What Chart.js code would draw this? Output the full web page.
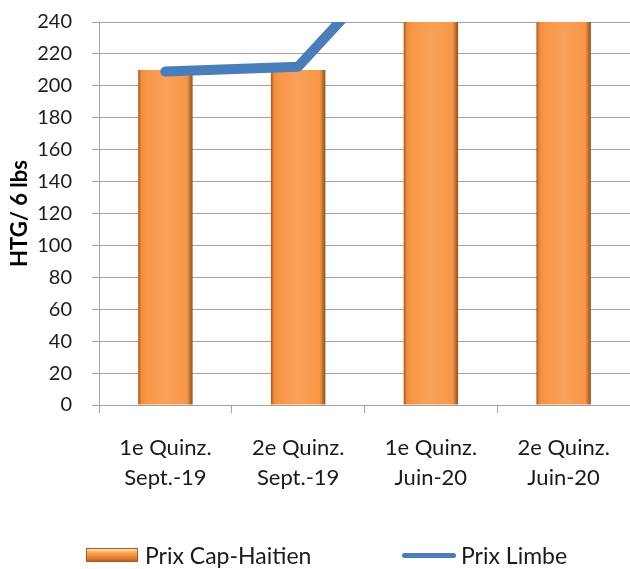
<!DOCTYPE html>
<html>
<head>
<meta charset="utf-8">
<script src="https://cdn.jsdelivr.net/npm/chart.js@4.4.1/dist/chart.umd.min.js"></script>
<style>
  html, body { margin: 0; padding: 0; background: #fff; }
  #wrap { position: relative; width: 630px; height: 569px; overflow: hidden; }
  #legend { position: absolute; left: 0; top: 543px; width: 630px; height: 24px;
            font-family: Lato, "Open Sans", sans-serif; font-size: 23px; color: #1a1a1a; }
  .item { position: absolute; top: 0; display: flex; align-items: center; height: 24px; white-space: nowrap; }
  .sw-bar { width: 52px; height: 14px; margin-right: 7px; box-sizing: border-box;
            border: 1px solid #a9581b;
            background: linear-gradient(#fde7a8 0%, #f9b36d 25%, #f79646 45%, #e6802f 75%, #b9621f 100%); }
  .sw-line { width: 54px; height: 5px; margin-right: 5px; border-radius: 3px; background: #4a7ebb; }
</style>
</head>
<body>
<div id="wrap">
  <canvas id="chart"></canvas>
  <div id="legend"></div>
</div>
<script>
// Données
const categories = [
    ['1e Quinz.', 'Sept.-19'],
    ['2e Quinz.', 'Sept.-19'],
    ['1e Quinz.', 'Juin-20'],
    ['2e Quinz.', 'Juin-20']
];
// Les deux dernières barres dépassent le haut de l'axe (coupées à 240)
const prixCapHaitien = [210, 210, 300, 300];
const prixLimbe = [209, 212, 302, 300];
const yTicks = { min: 0, max: 240, step: 20 };

Chart.defaults.font.family = 'Lato, "Open Sans", sans-serif';
Chart.defaults.color = '#1a1a1a';

const GRID = '#a3a3a3';
const BAR_PCT = 0.41;
const BAR_COLOR = '#f79646';
const LINE_COLOR = '#4a7ebb';

// Dégradé horizontal pour imiter le relief des barres Excel
function barFill(context) {
    const chart = context.chart;
    const x = chart.scales.x;
    if (!chart.chartArea || !x || context.dataIndex === undefined) return BAR_COLOR;
    const c = x.getPixelForValue(context.dataIndex);
    const half = (x.getPixelForValue(1) - x.getPixelForValue(0)) * BAR_PCT / 2;
    const g = chart.ctx.createLinearGradient(c - half, 0, c + half, 0);
    g.addColorStop(0, '#a9581b');
    g.addColorStop(0.06, '#f08d3e');
    g.addColorStop(0.15, '#f79646');
    g.addColorStop(0.5, '#faa158');
    g.addColorStop(0.9, '#f79646');
    g.addColorStop(1, '#8f4e18');
    return g;
}

const ctx = document.getElementById('chart').getContext('2d');
const chart = new Chart(ctx, {
    data: {
        labels: categories,
        datasets: [{
            type: 'bar',
            label: 'Prix Cap-Haitien',
            data: prixCapHaitien,
            backgroundColor: barFill,
            borderWidth: 0,
            categoryPercentage: 1,
            barPercentage: BAR_PCT,
            clip: 0,
            order: 2
        }, {
            type: 'line',
            label: 'Prix Limbe',
            data: prixLimbe,
            borderColor: LINE_COLOR,
            backgroundColor: LINE_COLOR,
            borderWidth: 10,
            borderCapStyle: 'round',
            borderJoinStyle: 'round',
            tension: 0,
            pointRadius: 0,
            clip: 0,
            order: 1
        }]
    },
    options: {
        responsive: true,
        maintainAspectRatio: false,
        animation: false,
        layout: {
            padding: { top: 22, right: 0, left: 0, bottom: 69 }
        },
        plugins: {
            tooltip: { enabled: false },
            legend: { display: false }
        },
        scales: {
            x: {
                offset: true,
                grid: {
                    display: true,
                    drawOnChartArea: false,
                    offset: true,
                    tickLength: 8,
                    color: GRID
                },
                border: { color: GRID },
                ticks: {
                    padding: 20,
                    color: '#1a1a1a',
                    font: { size: 22, lineHeight: 1.36 },
                    maxRotation: 0,
                    autoSkip: false
                },
                afterFit: (scale) => { scale.height = 95; }
            },
            y: {
                min: yTicks.min,
                max: yTicks.max,
                grid: {
                    color: GRID,
                    tickLength: 7
                },
                border: { color: GRID },
                ticks: {
                    stepSize: yTicks.step,
                    padding: 20,
                    autoSkip: false,
                    color: '#1a1a1a',
                    font: { size: 20 }
                },
                title: {
                    display: true,
                    text: 'HTG/ 6 lbs',
                    color: '#000',
                    font: { size: 22, weight: 'bold' },
                    padding: { top: 7, bottom: 0 }
                },
                afterFit: (scale) => {
                    scale.width = 99;
                    // la marge des étiquettes ne doit pas décaler le haut du graphique
                    scale.paddingTop = 0;
                    scale.paddingBottom = 0;
                }
            }
        }
    }
});

// Légende en HTML (espacement identique à l'original)
const legendPos = { 'Prix Cap-Haitien': 86, 'Prix Limbe': 402 };
const legendEl = document.getElementById('legend');
chart.data.datasets.forEach(ds => {
    const item = document.createElement('div');
    item.className = 'item';
    item.style.left = legendPos[ds.label] + 'px';
    const sw = document.createElement('span');
    sw.className = ds.type === 'line' ? 'sw-line' : 'sw-bar';
    const txt = document.createElement('span');
    txt.textContent = ds.label;
    item.appendChild(sw);
    item.appendChild(txt);
    legendEl.appendChild(item);
});
</script>
</body>
</html>
